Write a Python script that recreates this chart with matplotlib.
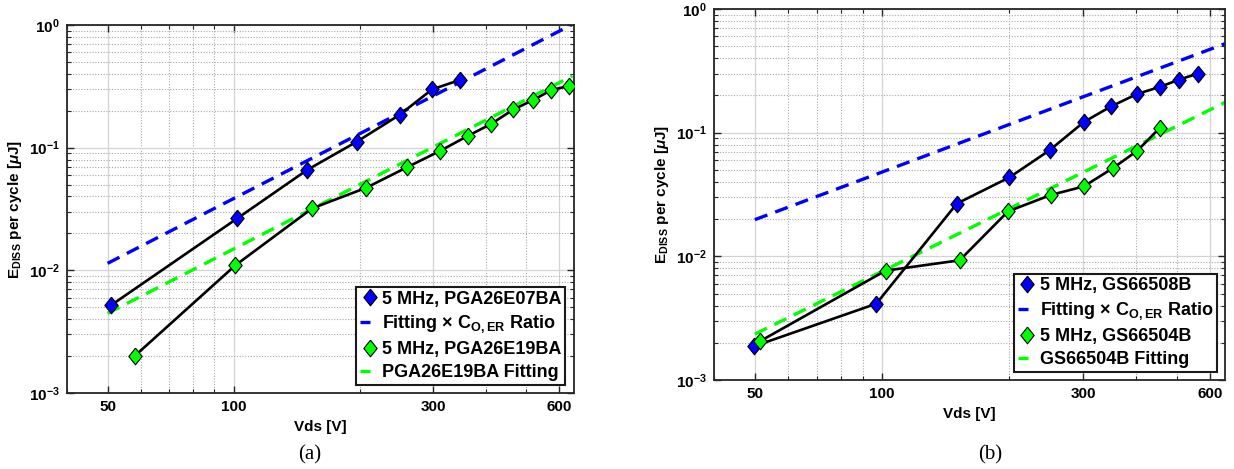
import matplotlib
matplotlib.use('Agg')
import matplotlib.pyplot as plt
from matplotlib.ticker import FixedLocator, LogLocator, NullFormatter
from matplotlib.lines import Line2D

plt.rcParams['font.family'] = ['Liberation Sans', 'DejaVu Sans']
plt.rcParams['font.weight'] = 'bold'
plt.rcParams['mathtext.fontset'] = 'custom'
plt.rcParams['mathtext.rm'] = 'Liberation Sans:bold'
plt.rcParams['mathtext.bf'] = 'Liberation Sans:bold'
plt.rcParams['mathtext.it'] = 'Liberation Sans:italic:bold'
plt.rcParams['mathtext.sf'] = 'Liberation Sans:bold'

# ---------------- data (a) ----------------
a_blue_v = [51, 102, 150, 197, 249, 298, 347]
a_blue_e = [0.0052, 0.0265, 0.066, 0.112, 0.185, 0.299, 0.356]
a_green_v = [58, 101, 154, 207, 259, 311, 363, 412, 466, 520, 574, 631]
a_green_e = [0.0020, 0.0110, 0.032, 0.047, 0.069, 0.094, 0.125, 0.156, 0.205, 0.245, 0.295, 0.318]
a_fit_blue_v = [50, 640]
a_fit_blue_e = [0.0114, 1.0]
a_fit_green_v = [50, 644]
a_fit_green_e = [0.00446, 0.384]
a_labels = ['5 MHz, PGA26E07BA', r'Fitting $\times$ C$_{\mathbf{O,ER}}$ Ratio',
            '5 MHz, PGA26E19BA', 'PGA26E19BA Fitting']

# ---------------- data (b) ----------------
b_blue_v = [49.7, 97, 150.5, 200.5, 249.5, 301, 349, 403, 455, 505, 560]
b_blue_e = [0.00187, 0.00414, 0.0267, 0.0435, 0.072, 0.122, 0.163, 0.206, 0.234, 0.268, 0.30]
b_green_v = [51.3, 102, 152.8, 199, 251, 301, 353, 403, 455]
b_green_e = [0.00205, 0.00766, 0.00929, 0.0231, 0.0313, 0.0368, 0.0518, 0.0715, 0.109]
b_fit_blue_v = [50, 657]
b_fit_blue_e = [0.0198, 0.531]
b_fit_green_v = [50, 657]
b_fit_green_e = [0.00235, 0.179]
b_labels = ['5 MHz, GS66508B', r'Fitting $\times$ C$_{\mathbf{O,ER}}$ Ratio',
            '5 MHz, GS66504B', 'GS66504B Fitting']

x_ticks = [50, 100, 300, 600]
x_ticklabels = ['50', '100', '300', '600']
y_ticks = [1e-3, 1e-2, 1e-1, 1e0]
y_ticklabels = [r'$\mathbf{10^{-3}}$', r'$\mathbf{10^{-2}}$', r'$\mathbf{10^{-1}}$', r'$\mathbf{10^{0}}$']

BLUE = '#0000FF'
GREEN = '#00FF00'
DIAMOND = [(0, 1), (0.8, 0), (0, -1), (-0.8, 0), (0, 1)]
AXC = '#262626'
MS = 12
FIT_LW = 2.4

fig = plt.figure(figsize=(12.34, 4.69), dpi=100)


def panel(rect, bv, be, gv, ge, fbv, fbe, fgv, fge, labels, caption, cap_x, leg_anchor):
    ax = fig.add_axes(rect)
    ax.set_xscale('log')
    ax.set_yscale('log')
    ax.set_xlim(40, 650)
    ax.set_ylim(1e-3, 1)

    ax.plot(fbv, fbe, color=BLUE, lw=FIT_LW, dashes=(4, 2.5), zorder=2)
    ax.plot(fgv, fge, color=GREEN, lw=FIT_LW, dashes=(4, 2.5), zorder=2)
    ax.plot(bv, be, color='black', lw=1.9, zorder=3)
    ax.plot(gv, ge, color='black', lw=1.9, zorder=3)
    ax.plot(bv, be, ls='none', marker=DIAMOND, ms=MS, mfc=BLUE, mec='black', mew=0.8, zorder=4)
    ax.plot(gv, ge, ls='none', marker=DIAMOND, ms=MS, mfc=GREEN, mec='black', mew=0.8, zorder=4)

    ax.xaxis.set_major_locator(FixedLocator(x_ticks))
    ax.set_xticklabels(x_ticklabels)
    ax.xaxis.set_minor_locator(LogLocator(base=10, subs=[2, 3, 4, 5, 6, 7, 8, 9], numticks=20))
    ax.xaxis.set_minor_formatter(NullFormatter())
    ax.yaxis.set_major_locator(FixedLocator(y_ticks))
    ax.set_yticklabels(y_ticklabels)
    ax.yaxis.set_minor_locator(LogLocator(base=10, subs=[2, 3, 4, 5, 6, 7, 8, 9], numticks=20))
    ax.yaxis.set_minor_formatter(NullFormatter())

    ax.grid(True, which='major', color='#d4d4d4', lw=0.9, ls='-')
    ax.grid(True, which='minor', color='#a8a8a8', lw=0.8, ls=(0, (1, 1.5)))
    ax.set_axisbelow(True)

    ax.tick_params(which='both', direction='in', top=True, right=True, color=AXC,
                   labelsize=11, pad=5)
    ax.tick_params(which='major', length=5, width=1.0)
    ax.tick_params(which='minor', length=3, width=0.8)
    for s in ax.spines.values():
        s.set_color(AXC)
        s.set_linewidth(1.3)

    ax.set_xlabel('Vds [V]', fontsize=11, fontweight='bold', labelpad=4)
    ax.set_ylabel(r'E$_{\mathrm{DISS}}$ per cycle [$\mu$J]', fontsize=11, fontweight='bold')

    handles = [
        Line2D([], [], ls='none', marker=DIAMOND, ms=MS, mfc=BLUE, mec='black', mew=0.8),
        Line2D([], [], color=BLUE, lw=FIT_LW, dashes=(3.0, 5)),
        Line2D([], [], ls='none', marker=DIAMOND, ms=MS, mfc=GREEN, mec='black', mew=0.8),
        Line2D([], [], color=GREEN, lw=FIT_LW, dashes=(3.0, 5)),
    ]
    leg = ax.legend(handles, labels, loc='lower right', bbox_to_anchor=leg_anchor,
                    borderaxespad=0, handlelength=1.05, handletextpad=0.15,
                    borderpad=0.2, labelspacing=0.33, fancybox=False, framealpha=1,
                    edgecolor='#1a1a1a', prop={'weight': 'bold', 'size': 13})
    leg.get_frame().set_linewidth(1.5)
    fig.text(cap_x, 1 - 455 / 469, caption, ha='center', va='center',
             family='Liberation Serif', fontweight='normal', fontsize=15)
    return ax


ax1 = panel([67 / 1234, 1 - 393 / 469, 507 / 1234, 368 / 469],
            a_blue_v, a_blue_e, a_green_v, a_green_e,
            a_fit_blue_v, a_fit_blue_e, a_fit_green_v, a_fit_green_e,
            a_labels, '(a)', 310 / 1234, (0.982, 0.022))
ax2 = panel([714 / 1234, 1 - 380 / 469, 511 / 1234, 371 / 469],
            b_blue_v, b_blue_e, b_green_v, b_green_e,
            b_fit_blue_v, b_fit_blue_e, b_fit_green_v, b_fit_green_e,
            b_labels, '(b)', 990 / 1234, (0.984, 0.022))

fig.savefig('out.png', dpi=100)
